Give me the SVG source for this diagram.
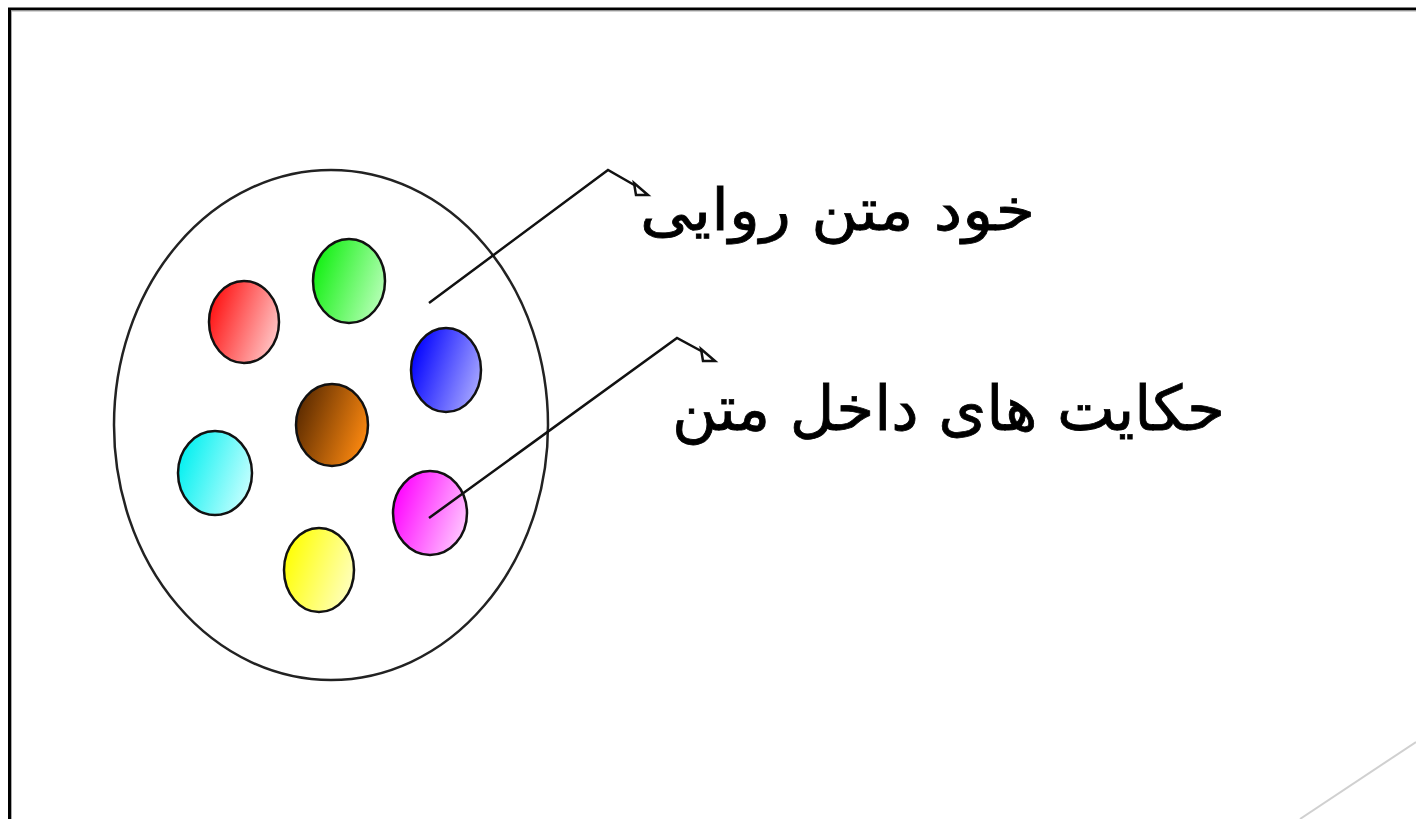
<svg xmlns="http://www.w3.org/2000/svg" width="1416" height="819" viewBox="0 0 1416 819">
<style>
.dot{stroke:#111;stroke-width:2.5}
.ln{fill:none;stroke:#111;stroke-width:2.5}
.lbl{font-family:"DejaVu Sans","Noto Sans",sans-serif;fill:#000;stroke:#000;stroke-width:0.8}
</style>
<defs>
<linearGradient id="gR" x1="0" y1="0.3" x2="1" y2="0.7"><stop offset="0" stop-color="#ff1010"/><stop offset="1" stop-color="#ffc8c8"/></linearGradient>
<linearGradient id="gG" x1="0" y1="0.3" x2="1" y2="0.7"><stop offset="0" stop-color="#10f010"/><stop offset="1" stop-color="#b8ffb8"/></linearGradient>
<linearGradient id="gB" x1="0" y1="0.3" x2="1" y2="0.7"><stop offset="0" stop-color="#0000ff"/><stop offset="1" stop-color="#a8a8ff"/></linearGradient>
<linearGradient id="gO" x1="0" y1="0.3" x2="1" y2="0.7"><stop offset="0" stop-color="#5a2a00"/><stop offset="1" stop-color="#ff8a10"/></linearGradient>
<linearGradient id="gC" x1="0" y1="0.3" x2="1" y2="0.7"><stop offset="0" stop-color="#00f0f0"/><stop offset="1" stop-color="#c8ffff"/></linearGradient>
<linearGradient id="gM" x1="0" y1="0.3" x2="1" y2="0.7"><stop offset="0" stop-color="#ff00ff"/><stop offset="1" stop-color="#ffc8ff"/></linearGradient>
<linearGradient id="gY" x1="0" y1="0.3" x2="1" y2="0.7"><stop offset="0" stop-color="#ffff00"/><stop offset="1" stop-color="#ffffc0"/></linearGradient>
</defs>
<rect width="1416" height="819" fill="#fff"/>
<g id="frame">
<line x1="8" y1="9" x2="1416" y2="9" stroke="#000" stroke-width="3"/>
<line x1="9.5" y1="8" x2="9.5" y2="819" stroke="#000" stroke-width="3"/>
<line x1="11" y1="11" x2="1416" y2="11" stroke="#aaa" stroke-width="1"/>
<line x1="11.5" y1="11" x2="11.5" y2="819" stroke="#aaa" stroke-width="1"/>
<line x1="1416" y1="742" x2="1300" y2="819" stroke="#d0d0d0" stroke-width="2"/>
</g>
<g id="outer">
<ellipse cx="331" cy="425" rx="217" ry="255" fill="none" stroke="#222" stroke-width="2.5"/>
</g>
<g id="red"><ellipse class="dot" cx="244" cy="322" rx="35" ry="41" fill="url(#gR)"/></g>
<g id="green"><ellipse class="dot" cx="349" cy="281" rx="36" ry="42" fill="url(#gG)"/></g>
<g id="blue"><ellipse class="dot" cx="446" cy="370" rx="35" ry="42" fill="url(#gB)"/></g>
<g id="brown"><ellipse class="dot" cx="332" cy="425" rx="36" ry="41" fill="url(#gO)"/></g>
<g id="cyan"><ellipse class="dot" cx="215" cy="473" rx="37" ry="42" fill="url(#gC)"/></g>
<g id="magenta"><ellipse class="dot" cx="430" cy="513" rx="37" ry="42" fill="url(#gM)"/></g>
<g id="yellow"><ellipse class="dot" cx="319" cy="570" rx="35" ry="42" fill="url(#gY)"/></g>
<g id="connectors">
<polyline class="ln" points="429,303 608,170 636,186"/>
<polygon points="634,183 648,195 636,195" fill="#fff" stroke="#111" stroke-width="2.5"/>
<polyline class="ln" points="429,518 677,338 703,352"/>
<polygon points="701,349 715,361 703,361" fill="#fff" stroke="#111" stroke-width="2.5"/>
</g>
<g id="label1">
<text class="lbl" x="640" y="230" font-size="58" textLength="395" lengthAdjust="spacingAndGlyphs">خود متن روایی</text>
</g>
<g id="label2">
<text class="lbl" x="672" y="430" font-size="62" textLength="553" lengthAdjust="spacingAndGlyphs">حکایت های داخل متن</text>
</g>
</svg>
